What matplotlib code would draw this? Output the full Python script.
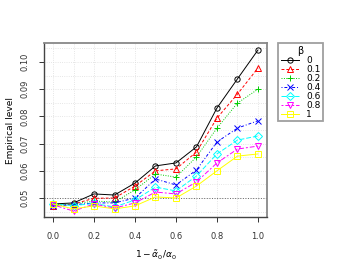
import numpy as np
from matplotlib import pyplot as plt

x_vals = [0.0, 0.1, 0.2, 0.3, 0.4, 0.5, 0.6, 0.7, 0.8, 0.9, 1.0]

beta_labels = ["0", "0.1", "0.2", "0.4", "0.6", "0.8", "1"]

level_b0  = [0.0478, 0.0482, 0.0515, 0.0511, 0.0555, 0.0618, 0.0629, 0.0688, 0.0831, 0.0938, 0.1044]
level_b01 = [0.0472, 0.0478, 0.0499, 0.0500, 0.0544, 0.0600, 0.0607, 0.0669, 0.0794, 0.0882, 0.0978]
level_b02 = [0.0475, 0.0478, 0.0489, 0.0485, 0.0530, 0.0588, 0.0577, 0.0651, 0.0757, 0.0849, 0.0900]
level_b04 = [0.0472, 0.0475, 0.0482, 0.0482, 0.0500, 0.0570, 0.0548, 0.0603, 0.0706, 0.0757, 0.0784]
level_b06 = [0.0478, 0.0472, 0.0480, 0.0467, 0.0493, 0.0540, 0.0526, 0.0581, 0.0662, 0.0713, 0.0728]
level_b08 = [0.0475, 0.0452, 0.0478, 0.0463, 0.0482, 0.0522, 0.0515, 0.0559, 0.0629, 0.0680, 0.0691]
level_b1  = [0.0478, 0.0460, 0.0471, 0.0460, 0.0471, 0.0504, 0.0500, 0.0544, 0.0600, 0.0654, 0.0662]

series = [level_b0, level_b01, level_b02, level_b04, level_b06, level_b08, level_b1]
colors = ["black", "#FF0000", "#00CD00", "#0000FF", "#00FFFF", "#FF00FF", "#FFFF00"]
markers = ["o", "^", "+", "x", "D", "v", "s"]
styles = ["-", (0, (3, 2)), (0, (1, 1.5)), (0, (1, 2, 3, 2)), (0, (5, 2)), (0, (2, 2, 5, 2)), "-"]

fig = plt.figure(figsize=(3.55, 2.72), dpi=100)
ax = fig.add_axes([0.124, 0.202, 0.628, 0.640])

ax.set_xticks(np.arange(0, 1.01, 0.1), minor=True)
ax.set_yticks(np.arange(0.045, 0.106, 0.005), minor=True)
ax.grid(True, which="both", color="#dddddd", linestyle=":", linewidth=0.6)
ax.set_axisbelow(True)

ax.axhline(0.05, color="#666666", linestyle=":", linewidth=0.7)

for vals, lab, c, m, ls in zip(series, beta_labels, colors, markers, styles):
    ax.plot(x_vals, vals, color=c, linestyle=ls, linewidth=0.7, marker=m,
            markersize=3.8 if m not in ("+", "x") else 4.5, markerfacecolor="none",
            markeredgewidth=0.7, label=lab)

ax.set_xlim(-0.044, 1.044)
ax.set_ylim(0.0430, 0.1070)
ax.set_xticks([0.0, 0.2, 0.4, 0.6, 0.8, 1.0])
ax.set_yticks([0.05, 0.06, 0.07, 0.08, 0.09, 0.10])
ax.set_xticklabels(["0.0", "0.2", "0.4", "0.6", "0.8", "1.0"])
ax.set_yticklabels(["0.05", "0.06", "0.07", "0.08", "0.09", "0.10"], rotation=90, va="center")
ax.tick_params(axis="both", which="major", labelsize=6, length=3.5, width=0.7, pad=7, colors="#333333")
ax.tick_params(axis="both", which="minor", length=0)

for side in ["top", "right"]:
    ax.spines[side].set_color("#888888")
    ax.spines[side].set_linewidth(1.3)
for side in ["left", "bottom"]:
    ax.spines[side].set_color("#444444")
    ax.spines[side].set_linewidth(1.0)

ax.set_xlabel(r"$1-\tilde{\alpha}_0/\alpha_0$", fontsize=6.5, labelpad=6)
ax.set_ylabel("Empirical level", fontsize=6.5, labelpad=4)

leg = ax.legend(title="β", loc="upper left", bbox_to_anchor=(1.05, 1.0),
                fontsize=6.5, title_fontsize=7, frameon=True, fancybox=False,
                handlelength=2.0, handletextpad=0.8, labelspacing=0.0,
                borderpad=0.3, borderaxespad=0)
leg.get_frame().set_edgecolor("#888888")
leg.get_frame().set_linewidth(1.3)

plt.savefig("out.png", dpi=100)
